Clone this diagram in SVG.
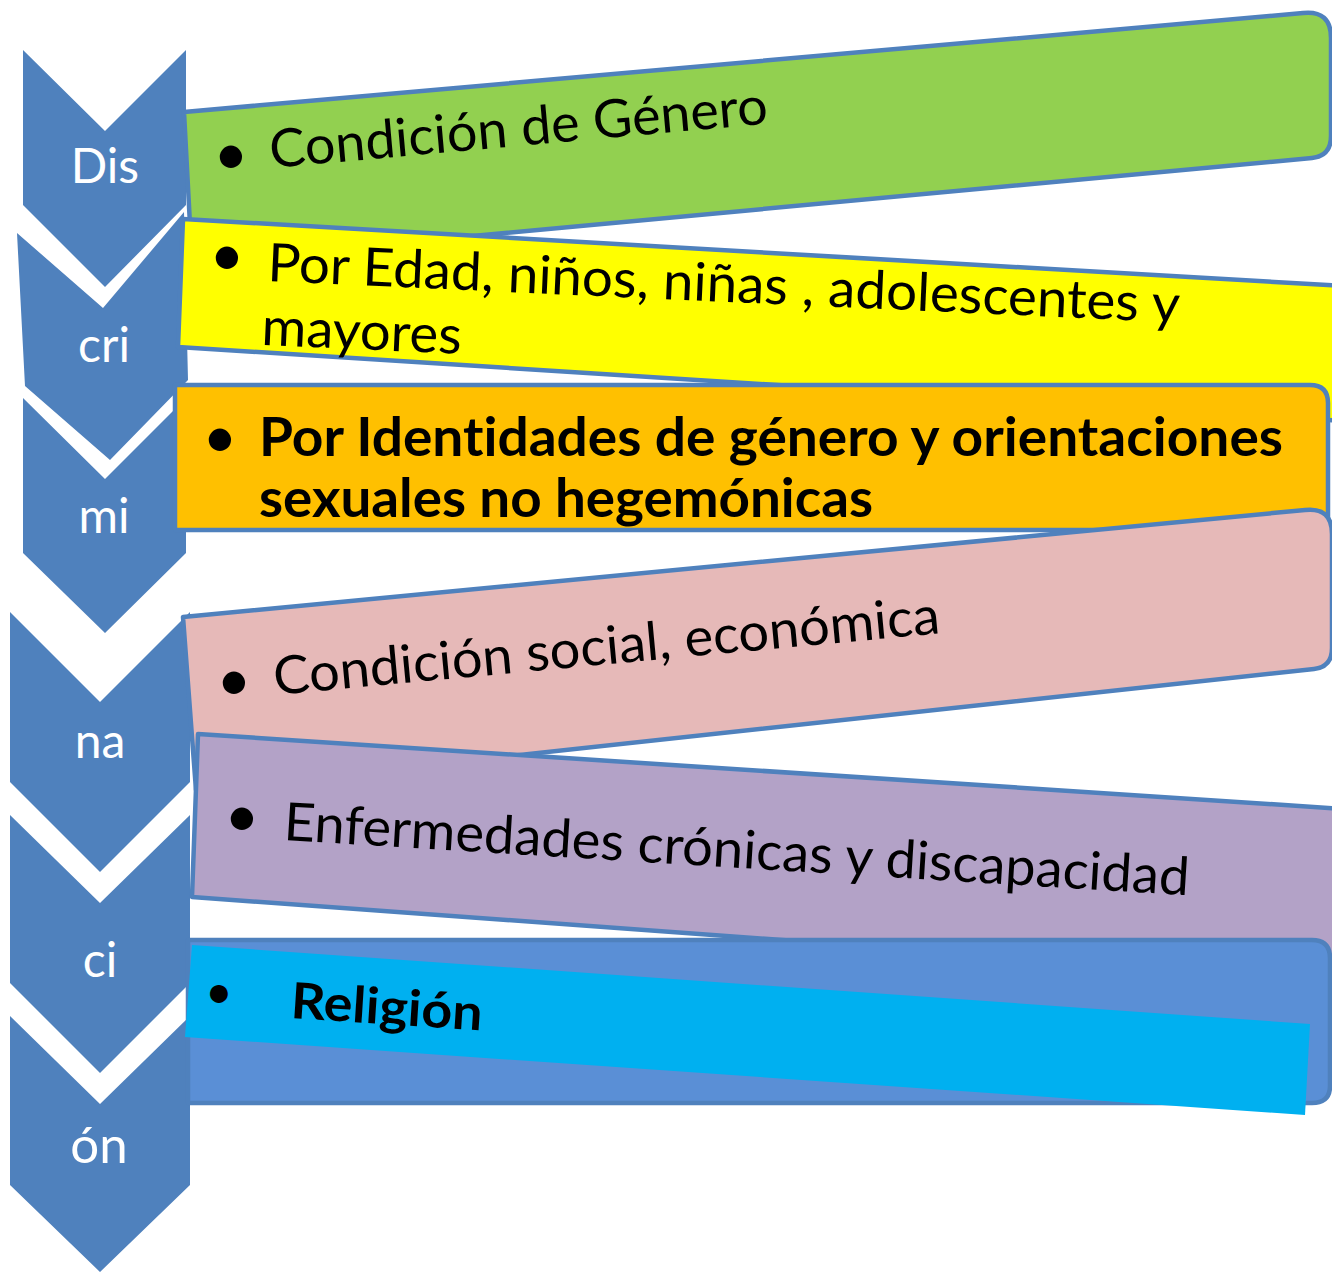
<svg xmlns="http://www.w3.org/2000/svg" width="1332" height="1272" viewBox="0 0 1332 1272">
<style>
.chev{fill:#4F81BD;}
.clab{font-family:Lato,"Open Sans","Liberation Sans",sans-serif;font-size:48px;fill:#FFFFFF;text-anchor:middle;}
.box{stroke:#4F81BD;stroke-width:4.5;stroke-linejoin:round;}
.t{font-family:Lato,"Open Sans","Liberation Sans",sans-serif;font-size:53px;fill:#000000;font-variant-ligatures:none;font-feature-settings:"liga" 0,"clig" 0;}
.b{font-weight:bold;}
.bul{font-family:Lato,"Open Sans","Liberation Sans",sans-serif;font-size:60px;fill:#000000;text-anchor:middle;}
</style>
<rect width="1332" height="1272" fill="#FFFFFF"/>
<g id="chevrons">
<g id="chev-dis"><polygon class="chev" points="23,50 105,131 186,50 186,205 105,287 23,205"/><text class="clab" x="105" y="183">Dis</text></g>
<g id="chev-cri"><polygon class="chev" points="17,233 103,308 184,212 188,380 110,460 25,386"/><text class="clab" x="104" y="362">cri</text></g>
<g id="chev-mi"><polygon class="chev" points="23,398 105,479 186,398 186,553 105,633 23,553"/><text class="clab" x="104" y="533">mi</text></g>
<g id="chev-na"><polygon class="chev" points="10,612 100,702 190,612 190,782 100,872 10,782"/><text class="clab" x="100" y="758">na</text></g>
<g id="chev-ci"><polygon class="chev" points="10,815 100,903 190,815 190,983 100,1073 10,983"/><text class="clab" x="100" y="977">ci</text></g>
<g id="chev-on"><polygon class="chev" points="10,1016 100,1104 190,1016 190,1185 100,1272 10,1185"/><text class="clab" x="99" y="1163" style="font-size:51px">ón</text></g>
</g>
<g id="box-genero">
<path class="box" fill="#92D050" d="M184,112 L1303,13 Q1331,10 1331,38 L1331,136 Q1331,156 1312,158 L192,262 Z"/>
<text class="bul" x="231" y="175">•</text>
<text class="t" transform="translate(271,168) rotate(-5.1)" textLength="500" lengthAdjust="spacingAndGlyphs">Condición de Género</text>
</g>
<g id="box-edad">
<path class="box" fill="#FFFF00" d="M183,219 L1345,286 L1345,421 L178,347 Z"/>
<text class="bul" x="227" y="276">•</text>
<g transform="translate(267,281) rotate(2.6)">
<text class="t" x="0" y="0" textLength="913" lengthAdjust="spacingAndGlyphs">Por Edad, niños, niñas , adolescentes y</text>
<text class="t" x="-3" y="64" textLength="200" lengthAdjust="spacingAndGlyphs">mayores</text>
</g>
</g>
<g id="box-identidades">
<path class="box" fill="#FFC000" d="M175,385 L1310,385 Q1328,385 1328,403 L1328,530 L175,530 Z"/>
<text class="bul" x="220" y="458">•</text>
<text class="t b" x="259" y="456" textLength="1024" lengthAdjust="spacingAndGlyphs">Por Identidades de género y orientaciones</text>
<text class="t b" x="259" y="517" textLength="614" lengthAdjust="spacingAndGlyphs">sexuales no hegemónicas</text>
</g>
<g id="box-social">
<path class="box" fill="#E6B9B8" d="M183,617 L1305,510 Q1332,507 1332,534 L1332,648 Q1332,667 1314,669 L196,790 Z"/>
<text class="bul" x="234" y="701">•</text>
<text class="t" transform="translate(275,695) rotate(-5.3)" textLength="669" lengthAdjust="spacingAndGlyphs">Condición social, económica</text>
</g>
<g id="box-enfermedades">
<path class="box" fill="#B3A2C7" d="M198,734 L1345,809 L1345,981 L192,897 Z"/>
<text class="bul" x="242" y="837">•</text>
<text class="t" transform="translate(283,840) rotate(3.5)" textLength="907" lengthAdjust="spacingAndGlyphs">Enfermedades crónicas y discapacidad</text>
</g>
<g id="box-religion">
<path class="box" fill="#5A8FD6" d="M188,940 L1312,940 Q1330,940 1330,958 L1330,1086 Q1330,1103 1312,1103 L188,1103 Z"/>
<polygon fill="#00B0F0" points="192,945 1310,1024 1305,1115 185,1037"/>
<text class="bul" x="219" y="1008" style="font-size:48px">•</text>
<text class="t b" transform="translate(290,1018) rotate(3.7)" style="font-size:50px" textLength="192" lengthAdjust="spacingAndGlyphs">Religión</text>
</g>
</svg>
